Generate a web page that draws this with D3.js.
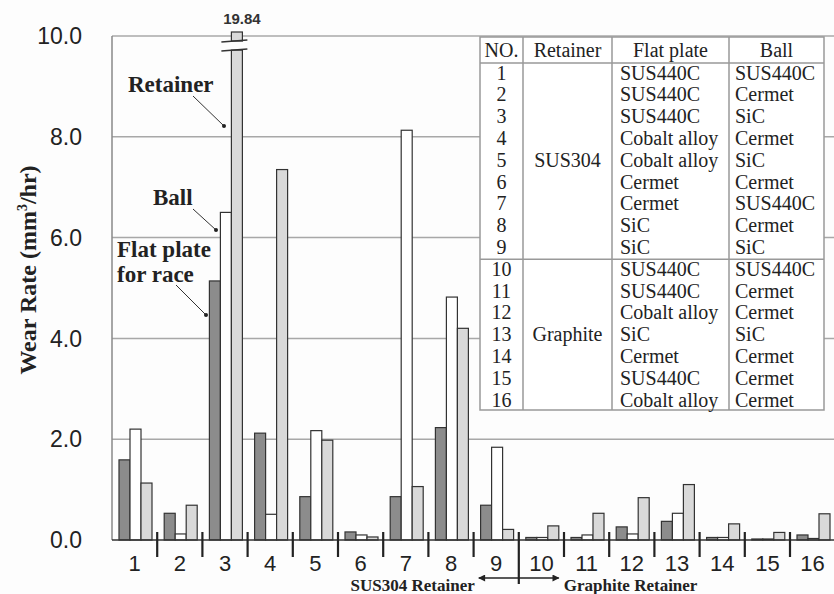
<!DOCTYPE html>
<html lang="en">
<head>
    <meta charset="UTF-8">
    <title>Wear rate of flat plate, ball and retainer</title>
    <script src="https://d3js.org/d3.v7.min.js"></script>
    <style>
        body { margin: 0; background: #fdfdfd; }
        .grid { stroke: #a8a8a8; stroke-width: 1.5px; }
        .tick-label { font-family: "Liberation Sans", Arial, sans-serif; font-size: 23px; fill: #222; }
        .cat-label { font-family: "Liberation Sans", Arial, sans-serif; font-size: 22px; fill: #222; text-anchor: middle; }
        .serif { font-family: "Liberation Serif", "Times New Roman", serif; fill: #222; }
        .bar { stroke: #333; stroke-width: 1.2px; }
        .table-line { stroke: #999; stroke-width: 1.5px; fill: none; }
    </style>
</head>
<body>
<svg width="834" height="594"></svg>
<script>
    // categories (test no.) and wear rates, mm3/hr
    const tests = d3.range(1, 17);
    const series = ["Flat plate", "Ball", "Retainer"];
    const flatPlate = [1.59, 0.53, 5.14, 2.12, 0.86, 0.16, 0.86, 2.23, 0.69, 0.05, 0.05, 0.26, 0.37, 0.05, 0.02, 0.10];
    const ball      = [2.20, 0.12, 6.50, 0.51, 2.17, 0.10, 8.13, 4.82, 1.84, 0.05, 0.10, 0.12, 0.53, 0.05, 0.02, 0.03];
    const retainer  = [1.13, 0.69, 19.84, 7.35, 1.98, 0.06, 1.06, 4.20, 0.21, 0.28, 0.53, 0.84, 1.10, 0.32, 0.15, 0.52];
    const yTicks = [0, 2, 4, 6, 8, 10];

    // table of materials
    const retainerMat = ["SUS304", "Graphite"];
    const plateMat = ["SUS440C", "SUS440C", "SUS440C", "Cobalt alloy", "Cobalt alloy", "Cermet", "Cermet", "SiC", "SiC",
                      "SUS440C", "SUS440C", "Cobalt alloy", "SiC", "Cermet", "SUS440C", "Cobalt alloy"];
    const ballMat = ["SUS440C", "Cermet", "SiC", "Cermet", "SiC", "Cermet", "SUS440C", "Cermet", "SiC",
                     "SUS440C", "Cermet", "Cermet", "SiC", "Cermet", "Cermet", "Cermet"];
    const headers = ["NO.", "Retainer", "Flat plate", "Ball"];

    const svg = d3.select("svg");
    const plotLeft = 112, plotTop = 36, plotBottom = 540, bandW = 45.2;

    const x = d3.scaleBand().domain(tests).range([plotLeft, plotLeft + tests.length * bandW]);
    const xs = d3.scaleBand().domain(series).range([7, 40]);
    const y = d3.scaleLinear().domain([0, 10]).range([plotBottom, plotTop]);
    const fills = { "Flat plate": "#8c8c8c", "Ball": "#ffffff", "Retainer": "#d9d9d9" };

    // grid lines and frame
    svg.selectAll(".grid").data(yTicks.filter(d => d > 0)).enter().append("line")
        .attr("class", "grid")
        .attr("x1", plotLeft).attr("x2", 834)
        .attr("y1", d => y(d)).attr("y2", d => y(d));
    svg.append("line").attr("x1", plotLeft).attr("x2", plotLeft).attr("y1", plotTop).attr("y2", plotBottom)
        .attr("stroke", "#888").attr("stroke-width", 1.5);

    svg.selectAll(".tick-label").data(yTicks).enter().append("text")
        .attr("class", "tick-label")
        .attr("x", 82).attr("y", d => y(d))
        .attr("dy", "0.36em")
        .attr("text-anchor", "end")
        .text(d => d.toFixed(1));

    svg.append("text").attr("class", "serif")
        .attr("transform", "translate(36,270) rotate(-90)")
        .attr("text-anchor", "middle")
        .style("font-size", "24px").style("font-weight", "bold")
        .html('Wear Rate (mm<tspan dy="-9" font-size="14">3</tspan><tspan dy="9">/hr)</tspan>');

    // bars
    const rows = tests.map((t, i) => ({ t, vals: [flatPlate[i], ball[i], retainer[i]] }));
    const cap = y(9.72); // clipped height for the broken bar
    const groups = svg.selectAll(".test").data(rows).enter().append("g")
        .attr("class", "test")
        .attr("transform", d => `translate(${x(d.t)},0)`);

    groups.selectAll("rect").data(d => d.vals.map((v, k) => ({ s: series[k], v }))).enter().append("rect")
        .attr("class", "bar")
        .attr("x", d => xs(d.s))
        .attr("width", xs.bandwidth())
        .attr("y", d => d.v > 10 ? cap : y(d.v))
        .attr("height", d => plotBottom - (d.v > 10 ? cap : y(d.v)))
        .attr("fill", d => fills[d.s]);

    // break on the off-scale retainer bar
    const bi = retainer.findIndex(v => v > 10);
    const bx = x(tests[bi]) + xs("Retainer");
    const bw = xs.bandwidth();
    svg.append("rect").attr("class", "bar")
        .attr("x", bx).attr("width", bw)
        .attr("y", 32).attr("height", y(9.9) - 32)
        .attr("fill", fills["Retainer"]);
    [y(9.9), cap].forEach(yy => {
        svg.append("line")
            .attr("x1", bx - 10).attr("x2", bx + bw + 5)
            .attr("y1", yy + 1).attr("y2", yy - 1)
            .attr("stroke", "#333").attr("stroke-width", 1.5);
    });
    svg.append("text")
        .attr("x", bx + bw / 2 + 5).attr("y", 24)
        .attr("text-anchor", "middle")
        .style("font-family", "'Liberation Sans Narrow', 'Liberation Sans', Arial, sans-serif")
        .style("font-size", "15px").style("font-weight", "bold").attr("fill", "#333")
        .text(retainer[bi].toFixed(2));

    // baseline, category labels, separators
    svg.append("line").attr("x1", plotLeft).attr("x2", 834).attr("y1", plotBottom).attr("y2", plotBottom)
        .attr("stroke", "#333").attr("stroke-width", 1.5);
    svg.selectAll(".cat-label").data(tests).enter().append("text")
        .attr("class", "cat-label")
        .attr("x", d => x(d) + x.bandwidth() / 2)
        .attr("y", 571)
        .text(d => d);
    svg.selectAll(".sep").data(tests.slice(0, -1)).enter().append("line")
        .attr("class", "sep")
        .attr("x1", d => x(d) + x.bandwidth()).attr("x2", d => x(d) + x.bandwidth())
        .attr("y1", 532).attr("y2", d => d === 9 ? 584 : 557)
        .attr("stroke", "#222").attr("stroke-width", 2.2);

    // retainer group arrows
    const mid = x(9) + x.bandwidth();
    svg.append("defs").append("marker")
        .attr("id", "head").attr("viewBox", "0 0 10 10")
        .attr("refX", 9).attr("refY", 5)
        .attr("markerWidth", 9).attr("markerHeight", 7)
        .attr("markerUnits", "userSpaceOnUse")
        .attr("orient", "auto-start-reverse")
        .append("path").attr("d", "M0,0L10,5L0,10Z").attr("fill", "#222");
    svg.append("line")
        .attr("x1", mid - 40).attr("x2", mid + 40).attr("y1", 578).attr("y2", 578)
        .attr("stroke", "#222").attr("stroke-width", 1.5)
        .attr("marker-start", "url(#head)").attr("marker-end", "url(#head)");
    svg.append("text").attr("class", "serif")
        .attr("x", mid - 44).attr("y", 591).attr("text-anchor", "end")
        .style("font-size", "17px").style("font-weight", "bold")
        .text("SUS304 Retainer");
    svg.append("text").attr("class", "serif")
        .attr("x", mid + 45).attr("y", 591)
        .style("font-size", "17px").style("font-weight", "bold")
        .text("Graphite Retainer");

    // callouts
    const callouts = [
        { lines: ["Retainer"], tx: 128, ty: 92, from: [193, 96], to: [224, 126] },
        { lines: ["Ball"], tx: 153, ty: 205, from: [193, 209], to: [216, 230] },
        { lines: ["Flat plate", "for race"], tx: 117, ty: 257, from: [176, 285], to: [206, 315] }
    ];
    callouts.forEach(c => {
        c.lines.forEach((l, i) => {
            svg.append("text").attr("class", "serif")
                .attr("x", c.tx).attr("y", c.ty + i * 25)
                .style("font-size", "23px").style("font-weight", "bold")
                .text(l);
        });
        svg.append("line")
            .attr("x1", c.from[0]).attr("y1", c.from[1]).attr("x2", c.to[0]).attr("y2", c.to[1])
            .attr("stroke", "#333").attr("stroke-width", 1);
        svg.append("circle").attr("cx", c.to[0]).attr("cy", c.to[1]).attr("r", 2).attr("fill", "#222");
    });

    // material table
    const cols = [480, 523, 612, 729, 824];
    const tTop = 37, headBottom = 63, tBottom = 410;
    const rowY = d3.scaleLinear().domain([1, 16]).range([73, 400]);
    const tbl = svg.append("g").attr("class", "serif").style("font-size", "20px");
    tbl.append("rect")
        .attr("x", cols[0]).attr("y", tTop)
        .attr("width", cols[4] - cols[0]).attr("height", tBottom - tTop)
        .attr("fill", "#fff").attr("stroke", "#999").attr("stroke-width", 1.5);
    cols.slice(1, 4).forEach(cx => {
        tbl.append("line").attr("class", "table-line")
            .attr("x1", cx).attr("x2", cx).attr("y1", tTop).attr("y2", tBottom);
    });
    tbl.append("line").attr("class", "table-line")
        .attr("x1", cols[0]).attr("x2", cols[4]).attr("y1", headBottom).attr("y2", headBottom);
    tbl.append("line").attr("class", "table-line")
        .attr("x1", cols[0]).attr("x2", cols[4])
        .attr("y1", (rowY(9) + rowY(10)) / 2 + 1).attr("y2", (rowY(9) + rowY(10)) / 2 + 1);

    tbl.selectAll(".hd").data(headers).enter().append("text")
        .attr("x", (d, i) => (cols[i] + cols[i + 1]) / 2)
        .attr("y", 57).attr("text-anchor", "middle")
        .text(d => d);
    tbl.selectAll(".no").data(tests).enter().append("text")
        .attr("x", (cols[0] + cols[1]) / 2).attr("y", d => rowY(d))
        .attr("dy", "0.33em").attr("text-anchor", "middle")
        .text(d => d);
    tbl.selectAll(".plate").data(plateMat).enter().append("text")
        .attr("x", cols[2] + 8).attr("y", (d, i) => rowY(i + 1))
        .attr("dy", "0.33em")
        .text(d => d);
    tbl.selectAll(".ballm").data(ballMat).enter().append("text")
        .attr("x", cols[3] + 6).attr("y", (d, i) => rowY(i + 1))
        .attr("dy", "0.33em")
        .text(d => d);
    tbl.selectAll(".ret").data(retainerMat).enter().append("text")
        .attr("x", (cols[1] + cols[2]) / 2)
        .attr("y", (d, i) => rowY(i === 0 ? 5 : 13))
        .attr("dy", "0.33em").attr("text-anchor", "middle")
        .text(d => d);
</script>
</body>
</html>
